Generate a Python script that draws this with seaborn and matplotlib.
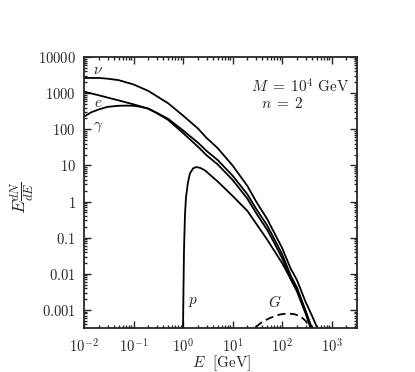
import numpy as np
import pandas as pd
import seaborn as sns
import matplotlib.pyplot as plt
from matplotlib.ticker import FixedLocator, FixedFormatter, LogLocator, NullFormatter

# spectra (E in GeV, E dN/dE)
nu_E = [0.01, 0.02, 0.03, 0.05, 0.1, 0.2, 0.3, 0.5, 1, 2, 3, 5, 10, 20, 30, 50, 70, 100, 150, 200, 300, 400, 500, 630]
nu_Y = [2630, 2630, 2510, 2290, 1740, 1150, 813, 525, 240, 105, 57.5, 30.2, 10, 2.69, 1.0, 0.331, 0.135,
        0.0525, 0.0138, 0.00676, 0.00166, 7.1e-4, 3.5e-4, 1.26e-4]

e_E = [0.01, 0.02, 0.05, 0.1, 0.2, 0.3, 0.5, 1, 2, 3, 5, 10, 20, 30, 50, 70, 100, 150, 200, 300, 400, 500]
e_Y = [1100, 870, 630, 490, 372, 282, 195, 93, 42.7, 25.1, 14.1, 5.25, 1.58, 0.63, 0.219, 0.091, 0.0355,
       0.0089, 0.0042, 9.5e-4, 3.2e-4, 1.1e-4]

g_E = [0.01, 0.014, 0.02, 0.03, 0.05, 0.07, 0.1, 0.14, 0.2, 0.3, 0.5, 1, 2, 3, 5, 10, 20, 30, 50, 70, 100,
       150, 200, 300, 400, 500]
g_Y = [224, 295, 355, 417, 447, 452, 447, 417, 372, 275, 182, 79, 33, 19, 10.7, 4.0, 1.2, 0.48, 0.166,
       0.071, 0.0275, 0.0071, 0.0033, 7.9e-4, 2.6e-4, 1e-4]

p_E = [0.985, 1.0, 1.02, 1.047, 1.096, 1.148, 1.26, 1.38, 1.6, 1.84, 2.2, 2.77, 5, 10, 20, 50, 100, 200,
       300, 400, 450]
p_Y = [1e-5, 3e-4, 0.003, 0.046, 0.43, 1.3, 3.4, 6.0, 8.3, 9.0, 8.6, 7.3, 3.6, 1.44, 0.55, 0.089, 0.02,
       0.0035, 8.9e-4, 2.5e-4, 1e-4]

G_E = [20, 28, 40, 57, 90, 130, 180, 230, 300, 350, 400]
G_Y = [1.8e-4, 3.2e-4, 4.7e-4, 6.0e-4, 7.5e-4, 8.0e-4, 7.6e-4, 6.8e-4, 5.0e-4, 3.5e-4, 2e-4]

xticks = [1e-2, 1e-1, 1, 10, 100, 1000]
xlabels = [r'$10^{-2}$', r'$10^{-1}$', r'$10^{0}$', r'$10^{1}$', r'$10^{2}$', r'$10^{3}$']
yticks = [1e-3, 1e-2, 1e-1, 1, 10, 100, 1000, 10000]
ylabels = [r'$0.001$', r'$0.01$', r'$0.1$', r'$1$', r'$10$', r'$100$', r'$1000$', r'$10000$']

sns.set_style('ticks')
plt.rcParams['mathtext.fontset'] = 'cm'
plt.rcParams['font.family'] = ['DejaVu Serif']

fig = plt.figure(figsize=(4.15, 3.72), dpi=100)
ax = fig.add_axes([84 / 415, 1 - 328 / 372, 273 / 415, 271 / 372])

for E, Y in [(nu_E, nu_Y), (e_E, e_Y), (g_E, g_Y), (p_E, p_Y)]:
    sns.lineplot(x=E, y=Y, ax=ax, color='black', lw=1.3, sort=False)
sns.lineplot(x=G_E, y=G_Y, ax=ax, color='black', lw=1.3, sort=False, linestyle=(0, (4.5, 2.5)))

ax.set_xscale('log')
ax.set_yscale('log')
ax.set_xlim(1e-2, 3270)
ax.set_ylim(3.17e-4, 1e4)

ax.xaxis.set_major_locator(FixedLocator(xticks))
ax.xaxis.set_major_formatter(FixedFormatter(xlabels))
ax.yaxis.set_major_locator(FixedLocator(yticks))
ax.yaxis.set_major_formatter(FixedFormatter(ylabels))
ax.xaxis.set_minor_locator(LogLocator(base=10, subs=np.arange(2, 10), numticks=20))
ax.yaxis.set_minor_locator(LogLocator(base=10, subs=np.arange(2, 10), numticks=20))
ax.xaxis.set_minor_formatter(NullFormatter())
ax.yaxis.set_minor_formatter(NullFormatter())
ax.tick_params(which='both', direction='in', top=True, right=True, width=1.0, labelsize=10.5)
ax.tick_params(which='major', length=5, pad=6)
ax.tick_params(which='minor', length=2.5)
for s in ax.spines.values():
    s.set_linewidth(1.3)

fs = 11
ax.text(0.051, 0.952, r'$\nu$', transform=ax.transAxes, ha='center', va='center', fontsize=fs)
ax.text(0.051, 0.831, r'$e$', transform=ax.transAxes, ha='center', va='center', fontsize=fs)
ax.text(0.051, 0.742, r'$\gamma$', transform=ax.transAxes, ha='center', va='center', fontsize=fs)
ax.text(0.399, 0.096, r'$p$', transform=ax.transAxes, ha='center', va='center', fontsize=fs)
ax.text(0.70, 0.096, r'$G$', transform=ax.transAxes, ha='center', va='center', fontsize=fs)
ax.text(0.972, 0.889, r'$M\;=\;10^4\ \mathrm{GeV}$', transform=ax.transAxes, ha='right', va='center',
        fontsize=fs)
ax.text(0.65, 0.830, r'$n\;=\;2$', transform=ax.transAxes, ha='left', va='center', fontsize=fs)

fig.text(22 / 415, 1 - 197 / 372, r'$E\frac{dN}{dE}$', rotation=90, ha='center', va='center', fontsize=13)
fig.text(222 / 415, 1 - 363 / 372, r'$E\ \ [\mathrm{GeV}]$', ha='center', va='center', fontsize=11)

fig.savefig('out.png', dpi=100)
